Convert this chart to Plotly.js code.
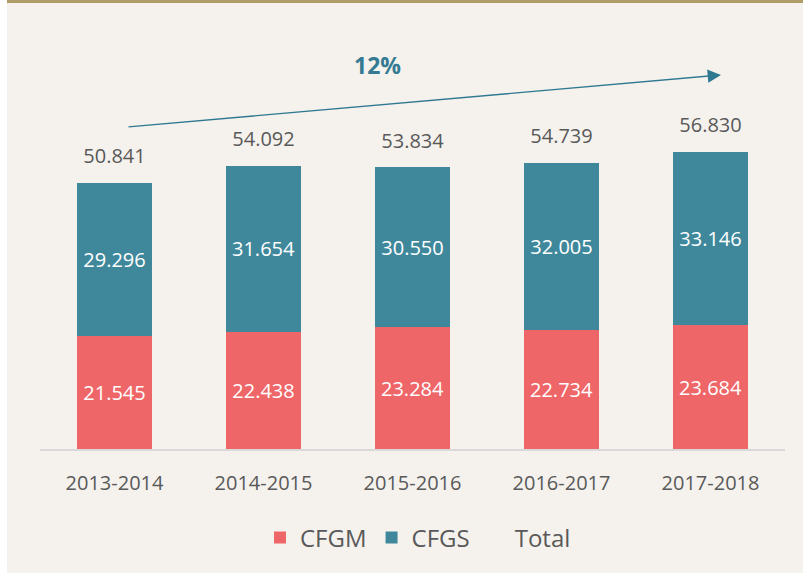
<!DOCTYPE html>
<html>
<head>
<meta charset="utf-8">
<script src="https://cdn.plot.ly/plotly-3.0.1.min.js"></script>
<style>html,body{margin:0;padding:0;background:#f5f2ee;}</style>
</head>
<body>
<div id="chart" style="width:803px;height:573px;"></div>
<script>
const categories = ["2013-2014", "2014-2015", "2015-2016", "2016-2017", "2017-2018"];
const cfgm = [21545, 22438, 23284, 22734, 23684];
const cfgs = [29296, 31654, 30550, 32005, 33146];
const totals = [50841, 54092, 53834, 54739, 56830];
const growthLabel = "12%";

function fmt(v) {
  const s = String(v);
  return s.slice(0, s.length - 3) + "." + s.slice(s.length - 3);
}

const textFont = "Open Sans, sans-serif";
const grey = "#595959";

const traces = [
  {
    type: "bar", name: "CFGM", x: categories, y: cfgm,
    marker: {color: "#EF6668"},
    text: cfgm.map(fmt), textposition: "inside", insidetextanchor: "middle",
    textfont: {color: "#ffffff", size: 20, family: textFont},
    hoverinfo: "none"
  },
  {
    type: "bar", name: "CFGS", x: categories, y: cfgs,
    marker: {color: "#3F889C"},
    text: cfgs.map(fmt), textposition: "inside", insidetextanchor: "middle",
    textfont: {color: "#ffffff", size: 20, family: textFont},
    hoverinfo: "none"
  },
  {
    type: "scatter", mode: "markers+text", x: categories, y: totals,
    marker: {size: 22, color: "rgba(0,0,0,0)"},
    text: totals.map(fmt), textposition: "top center",
    textfont: {color: grey, size: 20, family: textFont},
    showlegend: false, hoverinfo: "none", cliponaxis: false
  },
  {
    type: "scatter", mode: "lines", name: "Total", x: [categories[0]], y: [null],
    line: {color: "rgba(0,0,0,0)", width: 0}, hoverinfo: "none"
  }
];

const L = 40, T = 60, B = 124, W = 803, H = 573;
const pw = W - L - 18, ph = H - T - B;
const px = v => (v - L) / pw;
const py = v => (H - B - v) / ph;

const layout = {
  width: W, height: H,
  margin: {l: L, r: 18, t: T, b: B},
  paper_bgcolor: "#f5f2ee", plot_bgcolor: "#f5f2ee",
  barmode: "stack", bargap: 0.5,
  font: {family: textFont, color: grey},
  xaxis: {
    showline: true, linecolor: "#d9d9d9", linewidth: 1.5,
    ticks: "outside", ticklen: 15, tickcolor: "rgba(0,0,0,0)",
    tickfont: {size: 20, color: grey, family: textFont},
    showgrid: false, zeroline: false
  },
  yaxis: {visible: false, range: [0, 74350], showgrid: false, zeroline: false},
  showlegend: true,
  legend: {
    orientation: "h", x: px(418), xanchor: "center", y: py(538), yanchor: "middle",
    font: {size: 24, color: grey, family: textFont},
    bgcolor: "rgba(0,0,0,0)", traceorder: "normal"
  },
  annotations: [
    {
      xref: "paper", yref: "paper", x: px(721), y: py(75),
      ax: 127 - 721, ay: 127 - 75, axref: "pixel", ayref: "pixel",
      showarrow: true, arrowhead: 2, arrowsize: 1.9, arrowwidth: 1.4,
      arrowcolor: "#2E7890", standoff: 0, text: ""
    },
    {
      xref: "paper", yref: "paper", x: px(377), y: py(65),
      xanchor: "center", yanchor: "middle", showarrow: false,
      text: "<b>" + growthLabel + "</b>",
      font: {size: 23, color: "#347A92", family: textFont}
    }
  ],
  shapes: [
    {type: "rect", xref: "paper", yref: "paper", x0: px(0), x1: px(7), y0: py(H), y1: py(0),
     fillcolor: "#ffffff", line: {width: 0}, layer: "below"},
    {type: "rect", xref: "paper", yref: "paper", x0: px(7), x1: px(W), y0: py(3), y1: py(0),
     fillcolor: "#B09C68", line: {width: 0}}
  ]
};

Plotly.newPlot("chart", traces, layout, {displayModeBar: false, staticPlot: true});
</script>
</body>
</html>
